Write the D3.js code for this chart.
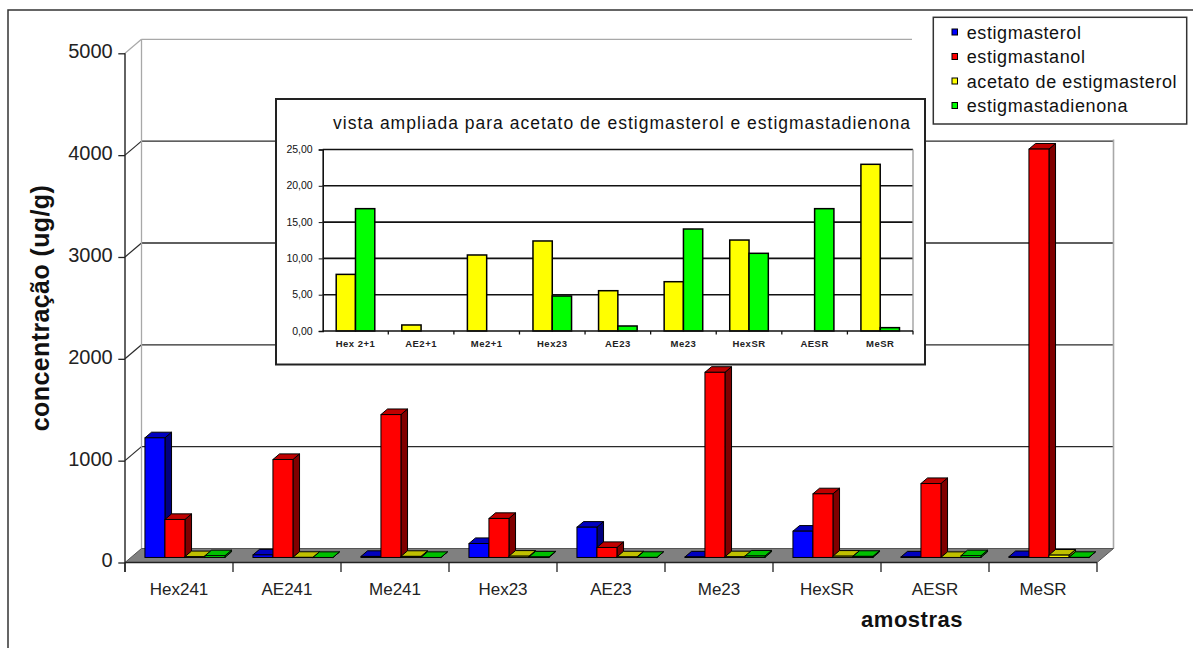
<!DOCTYPE html>
<html><head><meta charset="utf-8">
<script src="https://cdn.jsdelivr.net/npm/d3@7"></script>
<style>
body{margin:0;background:#fff;}
svg{display:block;font-family:"Liberation Sans",Arial,sans-serif;}
</style></head>
<body>
<svg id="c" width="1193" height="648"></svg>
<script>
// ---- data ----
const categories = ["Hex241","AE241","Me241","Hex23","AE23","Me23","HexSR","AESR","MeSR"];
const insetCategories = ["Hex 2+1","AE2+1","Me2+1","Hex23","AE23","Me23","HexSR","AESR","MeSR"];
const seriesNames = ["estigmasterol","estigmastanol","acetato de estigmasterol","estigmastadienona"];
const estigmasterol = [1175, 25, 10, 137, 297, 5, 258, 5, 8];
const estigmastanol = [373, 962, 1403, 383, 98, 1818, 625, 726, 4010];
const acetatoEstigmasterol = [7.8, 0.83, 10.47, 12.4, 5.55, 6.79, 12.53, 0, 22.96];
const estigmastadienona = [16.85, 0, 0, 4.82, 0.69, 14.05, 10.7, 16.85, 0.46];
const yTicks = [0,1000,2000,3000,4000,5000];
const insetTicks = [0,5,10,15,20,25];
const mainTitleY = "concentração (ug/g)";
const mainTitleX = "amostras";
const insetTitle = "vista ampliada para acetato de estigmasterol e  estigmastadienona";

const seriesValues = [estigmasterol, estigmastanol, acetatoEstigmasterol, estigmastadienona];
const frontCol = ["#0000ff","#ff0000","#ffff00","#00ff00"];
const sideCol  = ["#000080","#800000","#808000","#008000"];
const topCol   = ["#0000c0","#c00000","#c0c000","#00c000"];

const svg = d3.select("#c");

// outer frame
svg.append("rect").attr("x",8).attr("y",10).attr("width",1300).attr("height",800)
  .attr("fill","#fff").attr("stroke","#333").attr("stroke-width",1.5);

// ---- main 3D chart ----
const DX = 16.5, DY = -14;
const y = d3.scaleLinear().domain([0,5000]).range([562.5, 53.3]);
const x0 = d3.scaleBand().domain(categories).range([125,1097]);
const xEnd = 1097;
const bw = x0.bandwidth();
const barW = bw/5.4;
const gOff = (bw - 4*barW)/2;
const xs = d3.scaleBand().domain(d3.range(4)).range([gOff, gOff+4*barW]);
const fx = 0.36*DX, fy = 0.36*DY, cdx = 0.40*DX, cdy = 0.40*DY;

const g = svg.append("g");
// back wall gridlines
yTicks.forEach(t => {
  const yy = y(t)+DY;
  if (t===0) return;
  g.append("line").attr("x1",125+DX).attr("x2",xEnd+DX).attr("y1",yy).attr("y2",yy)
    .attr("stroke", t===5000 ? "#a8a8a8" : "#2a2a2a").attr("stroke-width",1.3);
  g.append("line").attr("x1",125).attr("y1",y(t)).attr("x2",125+DX).attr("y2",yy)
    .attr("stroke", t===5000 ? "#a8a8a8" : "#2a2a2a").attr("stroke-width",1.2);
});
g.append("line").attr("x1",125+DX).attr("x2",125+DX).attr("y1",y(5000)+DY).attr("y2",y(0)+DY)
  .attr("stroke","#a8a8a8").attr("stroke-width",1.3);
g.append("line").attr("x1",xEnd+DX).attr("x2",xEnd+DX).attr("y1",y(5000)+DY).attr("y2",y(0)+DY)
  .attr("stroke","#a8a8a8").attr("stroke-width",1.6);

// floor
const y0 = y(0);
g.append("path").attr("d", d3.line()([[125,y0],[xEnd,y0],[xEnd+DX,y0+DY],[125+DX,y0+DY]]) + "Z")
  .attr("fill","#808080").attr("stroke","#555").attr("stroke-width",1);

// bars
const bars = g.append("g");
categories.forEach((c,i) => {
  seriesValues.forEach((vals,j) => {
    const v = vals[i];
    const xl = x0(c) + xs(j) + fx;
    const xr = xl + barW;
    const yb = y(0) + fy;
    const yt = y(v) + fy;
    const bg = bars.append("g");
    bg.append("path").attr("d", d3.line()([[xr,yt],[xr+cdx,yt+cdy],[xr+cdx,yb+cdy],[xr,yb]])+"Z")
      .attr("fill",sideCol[j]).attr("stroke","#000").attr("stroke-width",1);
    bg.append("path").attr("d", d3.line()([[xl,yt],[xl+cdx,yt+cdy],[xr+cdx,yt+cdy],[xr,yt]])+"Z")
      .attr("fill",topCol[j]).attr("stroke","#000").attr("stroke-width",1);
    bg.append("rect").attr("x",xl).attr("y",yt).attr("width",barW).attr("height",Math.max(0,yb-yt))
      .attr("fill",frontCol[j]).attr("stroke","#000").attr("stroke-width",1);
  });
});

// y axis
const yAxis = g.append("g").attr("transform","translate(125,0)")
  .call(d3.axisLeft(y).tickValues(yTicks).tickSize(6.7).tickPadding(5.6).tickFormat(d3.format("d")));
yAxis.select(".domain").remove();
yAxis.selectAll(".tick line").attr("stroke","#222").attr("stroke-width",1.3);
yAxis.selectAll(".tick text").attr("font-size",20).attr("fill","#222").attr("dy","0.22em")
  .attr("font-family","Liberation Sans, Arial, sans-serif");
g.append("line").attr("x1",125).attr("x2",125).attr("y1",y(5000)).attr("y2",572)
  .attr("stroke","#222").attr("stroke-width",1.4);

// x axis
g.append("line").attr("x1",125).attr("x2",xEnd).attr("y1",y0).attr("y2",y0)
  .attr("stroke","#222").attr("stroke-width",1.4);
categories.forEach((c,i)=>{
  const xx = x0(c);
  g.append("line").attr("x1",xx).attr("x2",xx).attr("y1",y0).attr("y2",572).attr("stroke","#222").attr("stroke-width",1.3);
});
g.append("line").attr("x1",xEnd).attr("x2",xEnd).attr("y1",y0).attr("y2",572).attr("stroke","#222").attr("stroke-width",1.3);
const xAxis = g.append("g").attr("transform",`translate(0,${y0})`)
  .call(d3.axisBottom(x0).tickSize(0));
xAxis.select(".domain").remove();
xAxis.selectAll(".tick text").attr("font-size",17).attr("fill","#222").attr("y",32.5).attr("dy",0)
  .attr("font-family","Liberation Sans, Arial, sans-serif");

// axis titles
svg.append("text").attr("transform","translate(49,308) rotate(-90)").attr("text-anchor","middle")
  .attr("font-size",25).attr("font-weight","bold").attr("letter-spacing",0.4).attr("fill","#111")
  .text(mainTitleY);
svg.append("text").attr("x",912).attr("y",627).attr("text-anchor","middle")
  .attr("font-size",22).attr("font-weight","bold").attr("letter-spacing",0.5).attr("fill","#111")
  .text(mainTitleX);

// ---- legend ----
svg.append("rect").attr("x",912).attr("y",11).attr("width",281).attr("height",128.5).attr("fill","#fff");
svg.append("rect").attr("x",933.3).attr("y",17.3).attr("width",253.4).attr("height",106.7)
  .attr("fill","#fff").attr("stroke","#333").attr("stroke-width",1.5);
seriesNames.forEach((n,j)=>{
  const by = 38.5 + j*24.5;
  svg.append("rect").attr("x",952).attr("y",by-9.5).attr("width",5.5).attr("height",6)
    .attr("fill",frontCol[j]).attr("stroke","#000").attr("stroke-width",1);
  svg.append("text").attr("x",966.7).attr("y",by).attr("font-size",18).attr("letter-spacing",0.6)
    .attr("fill","#111").text(n);
});

// ---- inset ----
svg.append("rect").attr("x",276).attr("y",99).attr("width",649).attr("height",265.5)
  .attr("fill","#fff").attr("stroke","#222").attr("stroke-width",2);
svg.append("text").attr("x",621.5).attr("y",129).attr("text-anchor","middle").attr("font-size",17.5)
  .attr("textLength",577).attr("lengthAdjust","spacing").attr("fill","#111").text(insetTitle);

const yi = d3.scaleLinear().domain([0,25]).range([331,149.5]);
const xi = d3.scaleBand().domain(insetCategories).range([322.7,913]);
const ibw = xi.bandwidth();
const ibarW = ibw/3.4;
const xsi = d3.scaleBand().domain([0,1]).range([(ibw-2*ibarW)/2, (ibw-2*ibarW)/2 + 2*ibarW]);
const ig = svg.append("g");
insetTicks.forEach(t=>{
  if(t===0) return;
  ig.append("line").attr("x1",322.7).attr("x2",913).attr("y1",yi(t)).attr("y2",yi(t))
    .attr("stroke","#111").attr("stroke-width",1.6);
});
ig.append("line").attr("x1",913).attr("x2",913).attr("y1",yi(25)).attr("y2",yi(0))
  .attr("stroke","#999").attr("stroke-width",1.3);
const insetVals = [acetatoEstigmasterol, estigmastadienona];
insetCategories.forEach((c,i)=>{
  insetVals.forEach((vals,k)=>{
    const v = vals[i];
    if (v<=0) return;
    ig.append("rect").attr("x",xi(c)+xsi(k)).attr("y",yi(v)).attr("width",ibarW).attr("height",yi(0)-yi(v))
      .attr("fill",frontCol[k+2]).attr("stroke","#000").attr("stroke-width",1.5);
  });
});
const iyAxis = ig.append("g").attr("transform","translate(322.7,0)")
  .call(d3.axisLeft(yi).tickValues(insetTicks).tickSize(4).tickPadding(6)
    .tickFormat(d=>d3.format(".2f")(d).replace(".",",")));
iyAxis.select(".domain").attr("stroke","#111").attr("stroke-width",1.6);
iyAxis.selectAll(".tick text").attr("font-size",10.5).attr("fill","#111").attr("dy","0.3em")
  .attr("font-family","Liberation Sans, Arial, sans-serif");
iyAxis.selectAll(".tick line").attr("stroke","#111");
ig.append("line").attr("x1",322.7).attr("x2",913).attr("y1",yi(0)).attr("y2",yi(0)).attr("stroke","#111").attr("stroke-width",1.6);
insetCategories.forEach(c=>{
  ig.append("line").attr("x1",xi(c)+ibw).attr("x2",xi(c)+ibw).attr("y1",yi(0)).attr("y2",yi(0)+3.5).attr("stroke","#111").attr("stroke-width",1.3);
});
const ixAxis = ig.append("g").attr("transform",`translate(0,${yi(0)})`).call(d3.axisBottom(xi).tickSize(0));
ixAxis.select(".domain").remove();
ixAxis.selectAll(".tick text").attr("font-size",9.5).attr("font-weight","bold").attr("letter-spacing",0.5).attr("fill","#222")
  .attr("y",16).attr("dy",0).attr("font-family","Liberation Sans, Arial, sans-serif");
</script>
</body></html>
